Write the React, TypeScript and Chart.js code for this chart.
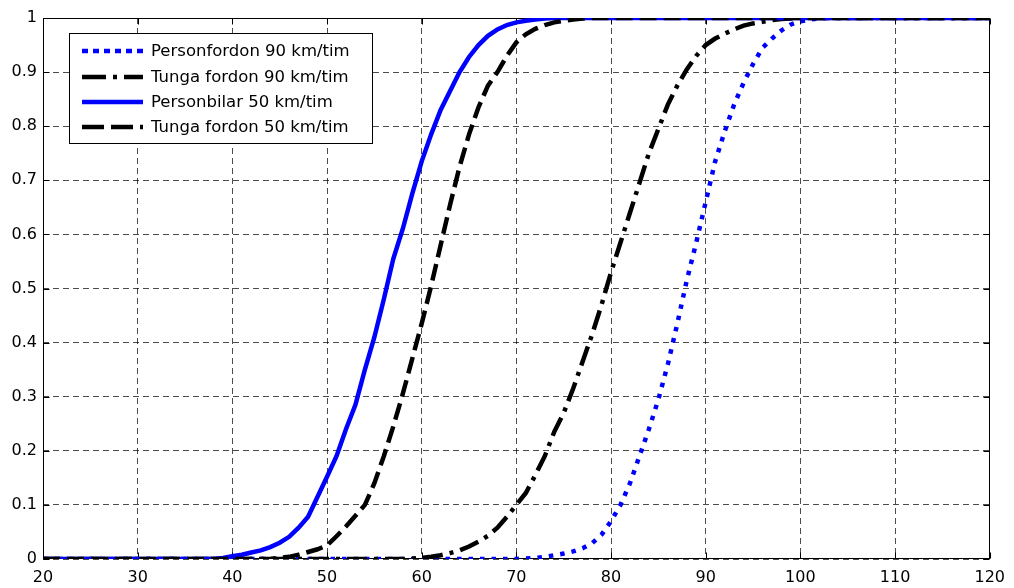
import React, { useEffect, useRef } from 'react';
import { Chart, registerables } from 'chart.js';

Chart.register(...registerables);

// ---- data ----
const X_TICK_LABELS = ['20', '30', '40', '50', '60', '70', '80', '90', '100', '110', '120'];
const Y_TICK_LABELS = ['0', '0.1', '0.2', '0.3', '0.4', '0.5', '0.6', '0.7', '0.8', '0.9', '1'];

const SERIES_NAMES = [
  'Personfordon 90 km/tim',
  'Tunga fordon 90 km/tim',
  'Personbilar 50 km/tim',
  'Tunga fordon 50 km/tim',
];

const PERSONFORDON_90_X = [20, 70, 71, 72, 73, 74, 75, 76, 77, 78, 79, 80, 81, 82, 83, 84, 85, 86, 87, 88, 89, 90,
  91, 92, 93, 94, 95, 96, 97, 98, 99, 100, 101, 102, 103, 120];
const PERSONFORDON_90_Y = [0, 0, 0.001, 0.002, 0.004, 0.007, 0.01, 0.014, 0.02, 0.029, 0.045, 0.07,
  0.1, 0.14, 0.19, 0.24, 0.295, 0.36, 0.435, 0.515, 0.585, 0.66,
  0.735, 0.79, 0.84, 0.88, 0.915, 0.945, 0.962, 0.977, 0.988, 0.994,
  0.997, 0.999, 1, 1];

const TUNGA_90_X = [20, 58, 59, 60, 61, 62, 63, 64, 65, 66, 67, 68, 69, 70, 71, 72, 73, 74, 75, 76, 77, 78,
  79, 80, 81, 82, 83, 84, 85, 86, 87, 88, 89, 90, 91, 92, 93, 94, 95, 96, 97, 98, 99, 100, 120];
const TUNGA_90_Y = [0, 0, 0.001, 0.002, 0.004, 0.007, 0.011, 0.016, 0.023, 0.032, 0.043, 0.058,
  0.078, 0.1, 0.122, 0.155, 0.19, 0.235, 0.27, 0.315, 0.365, 0.415,
  0.47, 0.53, 0.585, 0.64, 0.695, 0.75, 0.795, 0.84, 0.875, 0.905,
  0.93, 0.95, 0.962, 0.971, 0.979, 0.986, 0.99, 0.993, 0.996, 0.998,
  0.999, 1, 1];

const PERSONBILAR_50_X = [20, 38, 39, 40, 41, 42, 43, 44, 45, 46, 47, 48, 49, 50, 51, 52, 53, 54, 55, 56, 57, 58,
  59, 60, 61, 62, 63, 64, 65, 66, 67, 68, 69, 70, 71, 72, 73, 74, 120];
const PERSONBILAR_50_Y = [0, 0, 0.002, 0.005, 0.008, 0.012, 0.016, 0.022, 0.03, 0.041, 0.058, 0.078,
  0.115, 0.152, 0.19, 0.24, 0.285, 0.35, 0.41, 0.48, 0.555, 0.61,
  0.675, 0.735, 0.785, 0.83, 0.865, 0.9, 0.928, 0.95, 0.967, 0.979,
  0.987, 0.992, 0.995, 0.997, 0.999, 1, 1];

const TUNGA_50_X = [20, 44, 45, 46, 47, 48, 49, 50, 51, 52, 53, 54, 55, 56, 57, 58, 59, 60, 61, 62, 63, 64,
  65, 66, 67, 68, 69, 70, 71, 72, 73, 74, 75, 76, 77, 78, 120];
const TUNGA_50_Y = [0, 0, 0.002, 0.004, 0.008, 0.013, 0.018, 0.025, 0.042, 0.06, 0.08, 0.1,
  0.14, 0.19, 0.245, 0.305, 0.37, 0.435, 0.505, 0.58, 0.655, 0.725,
  0.785, 0.835, 0.875, 0.9, 0.93, 0.955, 0.97, 0.98, 0.987, 0.992,
  0.995, 0.997, 0.999, 1, 1];

const FONT = '"DejaVu Sans", "Liberation Sans", Arial, sans-serif';

const toPoints = (xs: number[], ys: number[]) => xs.map((x, i) => ({ x, y: ys[i] }));

const frameAndTicks = {
  id: 'frameAndTicks',
  beforeDatasetsDraw(chart: any) {
    const { ctx, chartArea } = chart;
    const { left, right, top, bottom } = chartArea;
    const L = Math.round(left) + 0.5;
    const R = Math.round(right) - 0.5;
    const T = Math.round(top) + 0.5;
    const B = Math.round(bottom) - 0.5;
    ctx.save();
    ctx.strokeStyle = '#000';
    ctx.lineWidth = 1;
    ctx.setLineDash([]);
    ctx.strokeRect(L, T, R - L, B - T);
    const tl = 6;
    const xs = chart.scales.x;
    const ys = chart.scales.y;
    ctx.beginPath();
    xs.ticks.forEach((t: any) => {
      const px = Math.round(xs.getPixelForValue(t.value)) + 0.5;
      ctx.moveTo(px, B); ctx.lineTo(px, B - tl);
      ctx.moveTo(px, T); ctx.lineTo(px, T + tl);
    });
    ys.ticks.forEach((t: any) => {
      const py = Math.round(ys.getPixelForValue(t.value)) + 0.5;
      ctx.moveTo(L, py); ctx.lineTo(L + tl, py);
      ctx.moveTo(R, py); ctx.lineTo(R - tl, py);
    });
    ctx.stroke();
    ctx.restore();
  },
};

const legendBox = {
  id: 'legendBox',
  afterDraw(chart: any) {
    const { ctx } = chart;
    const bx = 69.5, by = 33.5, bw = 303, bh = 110;
    ctx.save();
    ctx.fillStyle = '#fff';
    ctx.fillRect(bx, by, bw, bh);
    ctx.strokeStyle = '#000';
    ctx.lineWidth = 1;
    ctx.setLineDash([]);
    ctx.strokeRect(bx, by, bw, bh);
    const rowsY = [51, 77, 102, 127];
    chart.data.datasets.forEach((ds: any, i: number) => {
      const y = rowsY[i];
      ctx.beginPath();
      ctx.strokeStyle = ds.borderColor;
      ctx.lineWidth = ds.borderWidth;
      ctx.lineCap = 'butt';
      ctx.setLineDash(ds.legendDash || []);
      ctx.moveTo(82, y);
      ctx.lineTo(143, y);
      ctx.stroke();
      ctx.setLineDash([]);
      ctx.fillStyle = '#000';
      ctx.font = `16.5px ${FONT}`;
      ctx.textBaseline = 'middle';
      ctx.textAlign = 'left';
      ctx.fillText(ds.label, 151, y + 1);
    });
    ctx.restore();
  },
};

export default function App() {
  const canvasRef = useRef<HTMLCanvasElement | null>(null);

  useEffect(() => {
    document.body.style.margin = '0';
    const canvas = canvasRef.current;
    if (!canvas) return;
    const chart = new Chart(canvas, {
      type: 'line',
      data: {
        datasets: [
          {
            label: SERIES_NAMES[0],
            data: toPoints(PERSONFORDON_90_X, PERSONFORDON_90_Y),
            borderColor: '#0000ff',
            borderWidth: 4.5,
            borderDash: [4.5, 7],
            legendDash: [6, 5],
            borderCapStyle: 'butt',
            pointRadius: 0,
            tension: 0,
            fill: false,
            order: 3,
          } as any,
          {
            label: SERIES_NAMES[1],
            data: toPoints(TUNGA_90_X, TUNGA_90_Y),
            borderColor: '#000000',
            borderWidth: 4.5,
            borderDash: [20, 7, 4, 7],
            legendDash: [24, 7, 4, 7],
            borderCapStyle: 'butt',
            pointRadius: 0,
            tension: 0,
            fill: false,
            order: 2,
          } as any,
          {
            label: SERIES_NAMES[2],
            data: toPoints(PERSONBILAR_50_X, PERSONBILAR_50_Y),
            borderColor: '#0000ff',
            borderWidth: 4.5,
            borderDash: [],
            legendDash: [],
            pointRadius: 0,
            tension: 0,
            fill: false,
            order: 1,
          } as any,
          {
            label: SERIES_NAMES[3],
            data: toPoints(TUNGA_50_X, TUNGA_50_Y),
            borderColor: '#000000',
            borderWidth: 4.5,
            borderDash: [17, 7],
            legendDash: [22, 7],
            borderCapStyle: 'butt',
            pointRadius: 0,
            tension: 0,
            fill: false,
            order: 0,
          } as any,
        ],
      },
      options: {
        animation: false,
        responsive: false,
        devicePixelRatio: 1,
        layout: { padding: { top: 18, right: 21, left: 0, bottom: 0 } },
        plugins: {
          legend: { display: false },
          tooltip: { enabled: false },
        },
        scales: {
          x: {
            type: 'linear',
            min: 20,
            max: 120,
            afterFit: (s: any) => { s.height = 29; },
            ticks: {
              stepSize: 10,
              autoSkip: false,
              maxRotation: 0,
              padding: 9,
              color: '#000',
              font: { family: FONT, size: 16 },
              callback: (v: any) => X_TICK_LABELS[Math.round((Number(v) - 20) / 10)] ?? '',
            },
            grid: { color: 'rgba(0,0,0,0.7)', lineWidth: 1, drawTicks: false },
            border: { display: false, dash: [6, 4] },
          },
          y: {
            type: 'linear',
            min: 0,
            max: 1,
            afterFit: (s: any) => { s.width = 43; },
            ticks: {
              stepSize: 0.1,
              autoSkip: false,
              padding: 6,
              color: '#000',
              font: { family: FONT, size: 16 },
              callback: (v: any) => Y_TICK_LABELS[Math.round(Number(v) * 10)] ?? '',
            },
            grid: { color: 'rgba(0,0,0,0.7)', lineWidth: 1, drawTicks: false },
            border: { display: false, dash: [6, 4] },
          },
        },
      } as any,
      plugins: [frameAndTicks, legendBox],
    });
    return () => chart.destroy();
  }, []);

  return (
    <div style={{ position: 'fixed', left: 0, top: 0, width: 1014, height: 588, background: '#fff' }}>
      <canvas ref={canvasRef} width={1014} height={588} style={{ width: 1014, height: 588, display: 'block' }} />
    </div>
  );
}
